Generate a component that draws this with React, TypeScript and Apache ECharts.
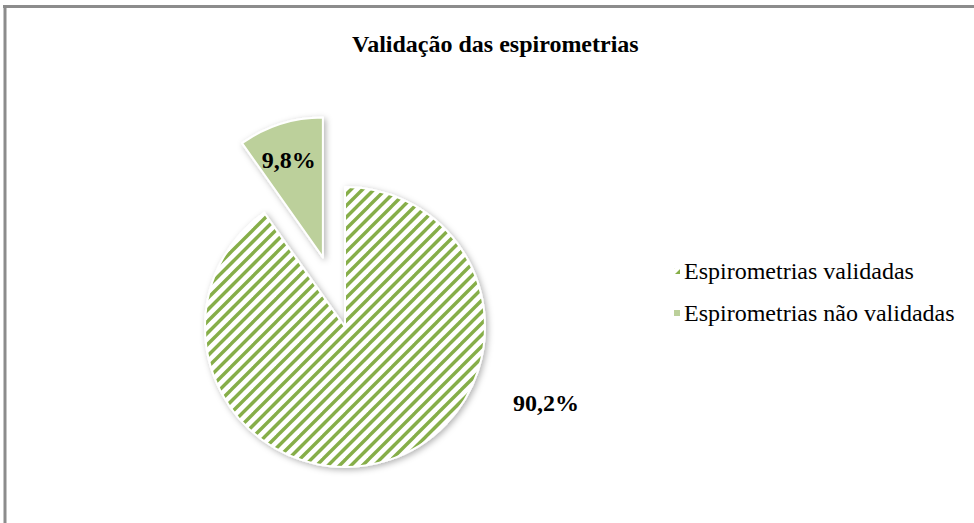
import React, { useEffect, useRef } from 'react';
import * as echarts from 'echarts';

const titleText = 'Validação das espirometrias';
const categories = ['Espirometrias validadas', 'Espirometrias não validadas'];
const percentages = [90.2, 9.8];

function makeStripes(color: string) {
  const size = 23;
  const c = document.createElement('canvas');
  c.width = size;
  c.height = size;
  const ctx = c.getContext('2d') as CanvasRenderingContext2D;
  ctx.fillStyle = '#ffffff';
  ctx.fillRect(0, 0, size, size);
  ctx.strokeStyle = color;
  ctx.lineWidth = 3.4;
  ctx.lineCap = 'square';
  for (let k = -1; k <= 5; k++) {
    const s = k * (size / 2);
    ctx.beginPath();
    ctx.moveTo(s + 4, -4);
    ctx.lineTo(-4, s + 4);
    ctx.stroke();
  }
  return c;
}

export default function App() {
  const ref = useRef<HTMLDivElement>(null);
  useEffect(() => {
    const chart = echarts.init(ref.current as HTMLDivElement, null, { renderer: 'svg' });
    const fmt = (v: number) => v.toFixed(1).replace('.', ',') + '%';
    const stripe = '#86ae48';
    const solid = '#bcd09b';
    const font = '"Liberation Serif", "Times New Roman", serif';
    const pattern = { image: makeStripes(stripe), repeat: 'repeat', imageWidth: 23, imageHeight: 23 };
    chart.setOption({
      animation: false,
      backgroundColor: '#ffffff',
      title: {
        text: titleText,
        left: 347,
        top: 27,
        textStyle: { fontFamily: font, fontSize: 24, fontWeight: 'bold', color: '#000' },
      },
      legend: {
        orient: 'vertical',
        left: 667,
        top: 254,
        icon: 'rect',
        itemWidth: 8,
        itemHeight: 8,
        itemGap: 18,
        data: categories,
        textStyle: { fontFamily: font, fontSize: 24, color: '#000', padding: [0, 0, 0, -2] },
      },
      graphic: [
        { type: 'line', shape: { x1: 3, y1: 6.5, x2: 974, y2: 6.5 }, style: { stroke: '#8c8c8c', lineWidth: 3 } },
        { type: 'line', shape: { x1: 5, y1: 5, x2: 5, y2: 523 }, style: { stroke: '#8c8c8c', lineWidth: 3 } },
      ],
      series: [
        {
          type: 'pie',
          center: [345, 327],
          radius: 140,
          startAngle: 90,
          clockwise: true,
          selectedMode: 'single',
          selectedOffset: 73,
          avoidLabelOverlap: false,
          emphasis: { disabled: true },
          label: {
            formatter: (p: any) => fmt(p.value),
            fontFamily: font,
            fontSize: 24,
            fontWeight: 'bold',
            color: '#000',
          },
          labelLayout: (p: any) =>
            p.dataIndex === 0
              ? { x: 546, y: 403, align: 'center', verticalAlign: 'middle' }
              : { dx: 0, dy: -28 },
          itemStyle: {
            borderColor: '#ffffff',
            borderWidth: 2,
            shadowBlur: 6,
            shadowOffsetX: 2,
            shadowOffsetY: 2,
            shadowColor: 'rgba(0,0,0,0.3)',
          },
          data: [
            {
              name: categories[0],
              value: percentages[0],
              label: { position: 'outside' },
              labelLine: { show: false },
              itemStyle: { color: pattern },
            },
            {
              name: categories[1],
              value: percentages[1],
              selected: true,
              label: { position: 'inside', padding: [0, 24, 0, 0] },
              itemStyle: { color: solid },
              select: { itemStyle: { color: solid, borderColor: '#ffffff', borderWidth: 2 } },
            },
          ],
        },
      ],
    });
    return () => chart.dispose();
  }, []);
  return <div ref={ref} style={{ position: 'absolute', left: 0, top: 0, width: 974, height: 523 }} />;
}
